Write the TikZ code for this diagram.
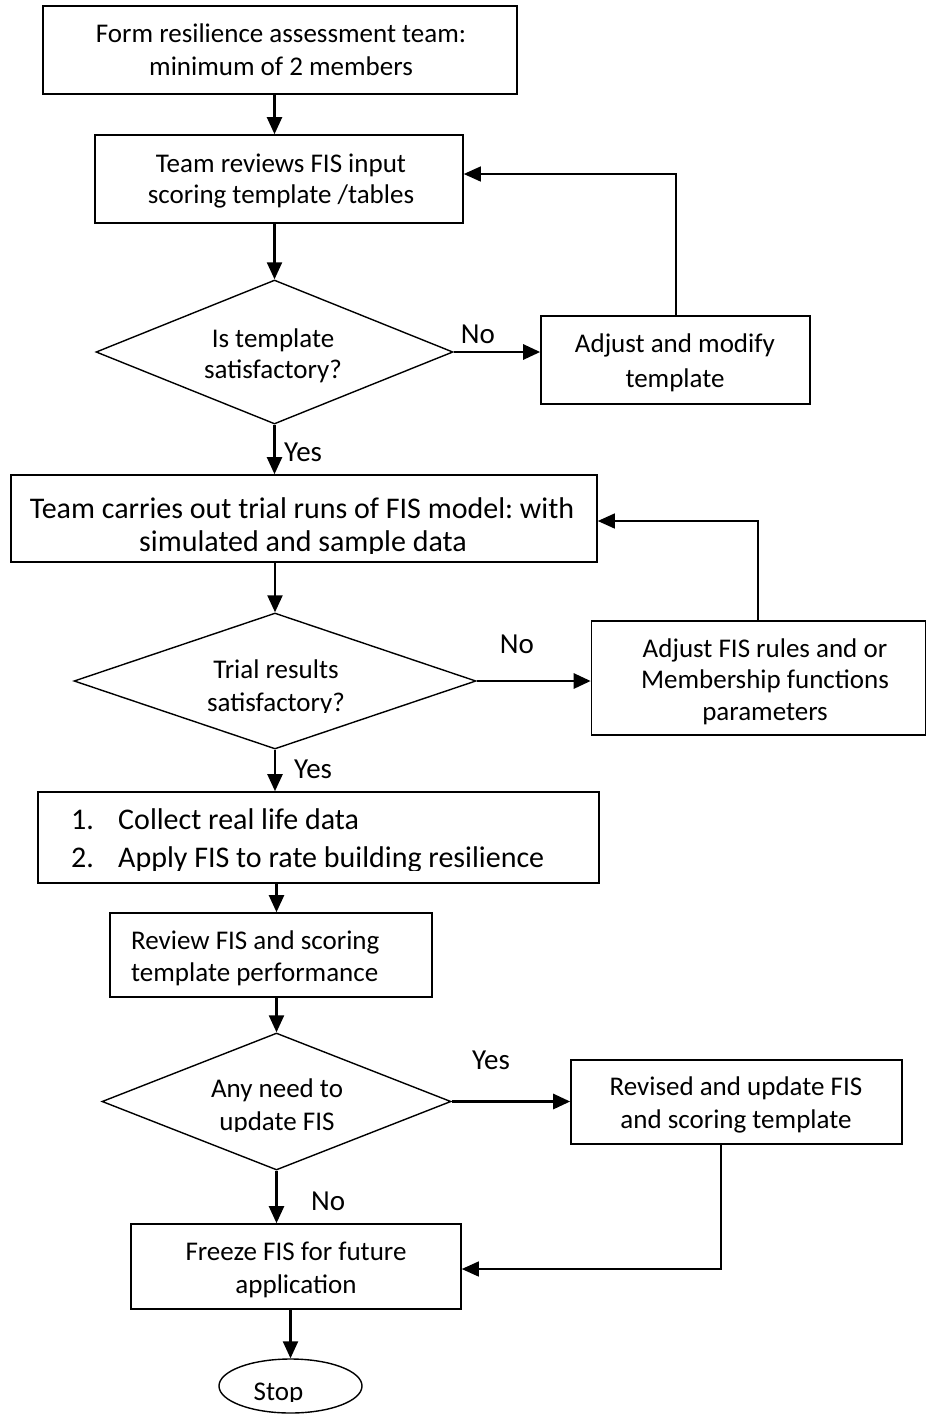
\documentclass[tikz,border=0pt]{standalone}
\usepackage{fontspec}
\setmainfont{Carlito}
\usetikzlibrary{arrows.meta,shapes.geometric}
\newcommand\bodyfont{\fontsize{27}{32}\selectfont}
\newcommand\bigfont{\fontsize{30}{35}\selectfont}
\newcommand\labfont{\fontsize{29}{34}\selectfont}
\frenchspacing
\begin{document}
\begin{tikzpicture}[x=1pt,y=-1pt,
  box/.style={draw,line width=1.6pt,rectangle,inner sep=0pt},
  dia/.style={draw,line width=1.4pt,diamond,inner sep=0pt},
  oval/.style={draw,line width=1.4pt,ellipse,inner sep=0pt},
  txt/.style={inner sep=0pt,anchor=base,font=\bodyfont},
  ltxt/.style={inner sep=0pt,anchor=base west,font=\bodyfont},
  btxt/.style={inner sep=0pt,anchor=base,font=\bigfont},
  bltxt/.style={inner sep=0pt,anchor=base west,font=\bigfont},
  lab/.style={inner sep=0pt,anchor=base,font=\labfont},
  llab/.style={inner sep=0pt,anchor=base west,font=\labfont},
  arr/.style={line width=2.2pt,-{Triangle[length=17pt,width=15pt]}},
  thickarr/.style={line width=2.8pt,-{Triangle[length=17pt,width=15pt]}},
  fb/.style={line width=1.4pt,-{Triangle[length=17pt,width=15pt]}},
]
\useasboundingbox[fill=white] (0,0) rectangle (927,1414);

% shapes
\node[box,minimum width=474pt,minimum height=88pt] (b1) at (280,50) {};
\node[box,minimum width=368pt,minimum height=88pt] (b2) at (279,179) {};
\node[dia,minimum width=357pt,minimum height=144pt] (d1) at (274.5,352) {};
\node[box,minimum width=269pt,minimum height=88pt] (b3) at (675.5,360) {};
\node[box,minimum width=586pt,minimum height=87pt] (b4) at (304,518.5) {};
\node[dia,minimum width=402pt,minimum height=136pt] (d2) at (275,681) {};
\node[box,minimum width=334pt,minimum height=114pt] (b6) at (758.5,678) {};
\node[box,minimum width=561pt,minimum height=91pt] (b5) at (318.5,837.5) {};
\node[box,minimum width=322pt,minimum height=84pt] (b7) at (271,955) {};
\node[dia,minimum width=349pt,minimum height=137pt] (d3) at (276.5,1101.5) {};
\node[box,minimum width=331pt,minimum height=84pt] (b8) at (736.5,1102) {};
\node[box,minimum width=330pt,minimum height=85pt] (b9) at (296,1266.5) {};
\node[oval,minimum width=143pt,minimum height=54pt] (stop) at (290.5,1386) {};

% texts
\node[txt] (t1a) at (281,42) {Form resilience assessment team:};
\node[txt] (t1b) at (281,75) {minimum of 2 members};
\node[txt] (t2a) at (281,172) {Team reviews FIS input};
\node[txt] (t2b) at (281,203) {scoring template /tables};
\node[txt] (td1a) at (273,347) {Is template};
\node[txt] (td1b) at (273,378) {satisfactory?};
\node[txt] (t3a) at (675,352) {Adjust and modify};
\node[txt] (t3b) at (675,387) {template};
\node[btxt] (t4a) at (302,518) {Team carries out trial runs of FIS model: with};
\begin{scope}
  \clip (0,480) rectangle (927,553.5);
  \node[btxt] (t4b) at (303,551) {simulated and sample data};
\end{scope}
\node[txt] (td2a) at (276,678) {Trial results};
\begin{scope}
  \clip (0,680) rectangle (927,712.5);
  \node[txt] (td2b) at (276,711) {satisfactory?};
\end{scope}
\node[txt] (t6a) at (765,657) {Adjust FIS rules and or};
\node[txt] (t6b) at (765,688) {Membership functions};
\node[txt] (t6c) at (765,720) {parameters};
\node[bltxt] (t5n1) at (71,829.3) {1.};
\node[bltxt] (t5a) at (118,829.3) {Collect real life data};
\begin{scope}
  \clip (0,835) rectangle (927,870.5);
  \node[bltxt] (t5n2) at (71,867.7) {2.};
  \node[bltxt] (t5b) at (118,867.7) {Apply FIS to rate building resilience};
\end{scope}
\node[ltxt] (t7a) at (131,949.3) {Review FIS and scoring};
\node[ltxt] (t7b) at (131,981) {template performance};
\node[txt] (td3a) at (277,1097.3) {Any need to};
\begin{scope}
  \clip (0,1100) rectangle (927,1131);
  \node[txt] (td3b) at (277,1130) {update FIS};
\end{scope}
\node[txt] (t8a) at (736,1095) {Revised and update FIS};
\node[txt] (t8b) at (736,1128.3) {and scoring template};
\node[txt] (t9a) at (296,1260) {Freeze FIS for future};
\node[txt] (t9b) at (296,1293.3) {application};
\begin{scope}
  \clip (0,1362) rectangle (927,1401.5);
  \node[txt] (tstop) at (278.5,1400) {Stop};
\end{scope}

% labels
\node[lab] (lno1) at (478,343) {No};
\node[llab] (lyes1) at (284,461) {Yes};
\node[lab] (lno2) at (517,653) {No};
\node[llab] (lyes2) at (294,778) {Yes};
\node[lab] (lyes3) at (491,1069) {Yes};
\node[llab] (lno3) at (311,1210) {No};

% main flow
\draw[arr] (b1.south -| d1.north) -- (b2.north -| d1.north);
\draw[arr] (b2.south -| d1.north) -- (d1.north);
\draw[arr] (d1.south) -- (b4.north -| d1.south);
\draw[arr] (b4.south -| d2.north) -- (d2.north);
\draw[arr] (d2.south) -- (b5.north -| d2.south);
\draw[arr] (b5.south -| d3.north) -- (b7.north -| d3.north);
\draw[arr] (b7.south -| d3.north) -- (d3.north);
\draw[arr] (d3.south) -- (b9.north -| d3.south);
\draw[arr] (b9.south -| stop.north) -- (stop.north);

% branches
\draw[thickarr] (d1.east) -- (b3.west |- d1.east);
\draw[thickarr] (d2.east) -- (b6.west |- d2.east);
\draw[thickarr] (d3.east) -- (b8.west |- d3.east);

% feedback loops
\coordinate (f1) at (676,174);
\coordinate (f2) at (758,521);
\coordinate (f3) at (721,1269);
\draw[fb] (b3.north -| f1) -- (f1) -- (b2.east |- f1);
\draw[fb] (b6.north -| f2) -- (f2) -- (b4.east |- f2);
\draw[fb] (b8.south -| f3) -- (f3) -- (b9.east |- f3);
\end{tikzpicture}
\end{document}
